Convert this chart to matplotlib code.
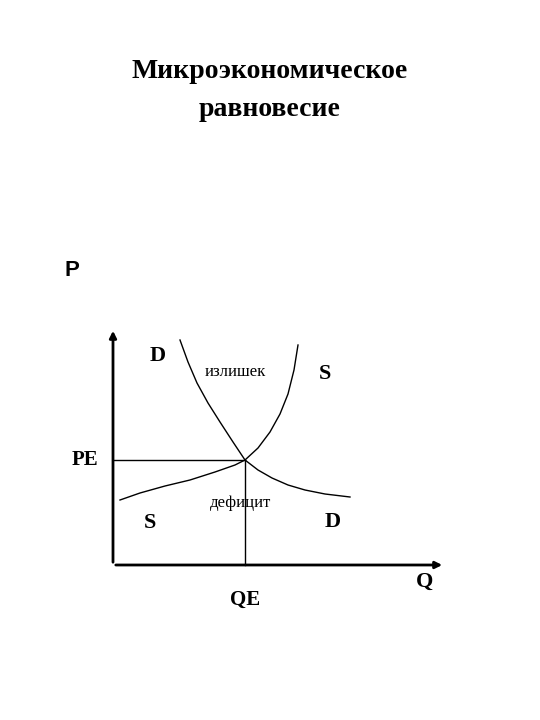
import matplotlib
matplotlib.use("Agg")
import matplotlib.pyplot as plt

# curve points (pixel-space coordinates of the reference diagram)
demand_x = [180, 188, 197, 208, 220, 233, 245, 258, 272, 288, 305, 325, 350]
demand_y = [340, 362, 383, 403, 422, 442, 460, 470, 478, 485, 490, 494, 497]
supply_x = [120, 140, 165, 190, 215, 235, 245, 258, 270, 280, 288, 294, 298]
supply_y = [500, 493, 486, 480, 472, 465, 460, 448, 432, 414, 394, 370, 345]
eq_q, eq_p = 245, 460
origin = (113, 565)

fig = plt.figure(figsize=(5.4, 7.2), dpi=100)
ax = fig.add_axes([0, 0, 1, 1])
ax.set_xlim(0, 540); ax.set_ylim(720, 0); ax.axis('off')

serif = ['Liberation Serif', 'DejaVu Serif']
ax.text(270, 72, "Микроэкономическое", ha='center', va='center', fontsize=20, fontweight='bold', family=serif)
ax.text(270, 110, "равновесие", ha='center', va='center', fontsize=20, fontweight='bold', family=serif)
ax.text(72, 270, "P", ha='center', va='center', fontsize=16, fontweight='bold', family=['Liberation Sans', 'DejaVu Sans'])

# axes
ax.annotate('', xy=(113, 328), xytext=origin, arrowprops=dict(arrowstyle='-|>', lw=2, color='black', mutation_scale=10))
ax.annotate('', xy=(445, 565), xytext=origin, arrowprops=dict(arrowstyle='-|>', lw=2, color='black', mutation_scale=10))

ax.plot(demand_x, demand_y, color='black', lw=1)
ax.plot(supply_x, supply_y, color='black', lw=1)
ax.plot([113, eq_q], [eq_p, eq_p], color='black', lw=1)
ax.plot([eq_q, eq_q], [eq_p, 565], color='black', lw=1)

labels = [("D", 158, 356, 16), ("излишек", 235, 372, 12), ("S", 325, 374, 16),
          ("PE", 85, 460, 15), ("дефицит", 240, 503, 12), ("S", 150, 523, 16),
          ("D", 333, 522, 16), ("QE", 245, 600, 15), ("Q", 425, 582, 16)]
for t, x, y, fs in labels:
    ax.text(x, y, t, ha='center', va='center', fontsize=fs, fontweight='bold' if fs > 12 else 'normal', family=serif)

fig.savefig("out.png", dpi=100)
